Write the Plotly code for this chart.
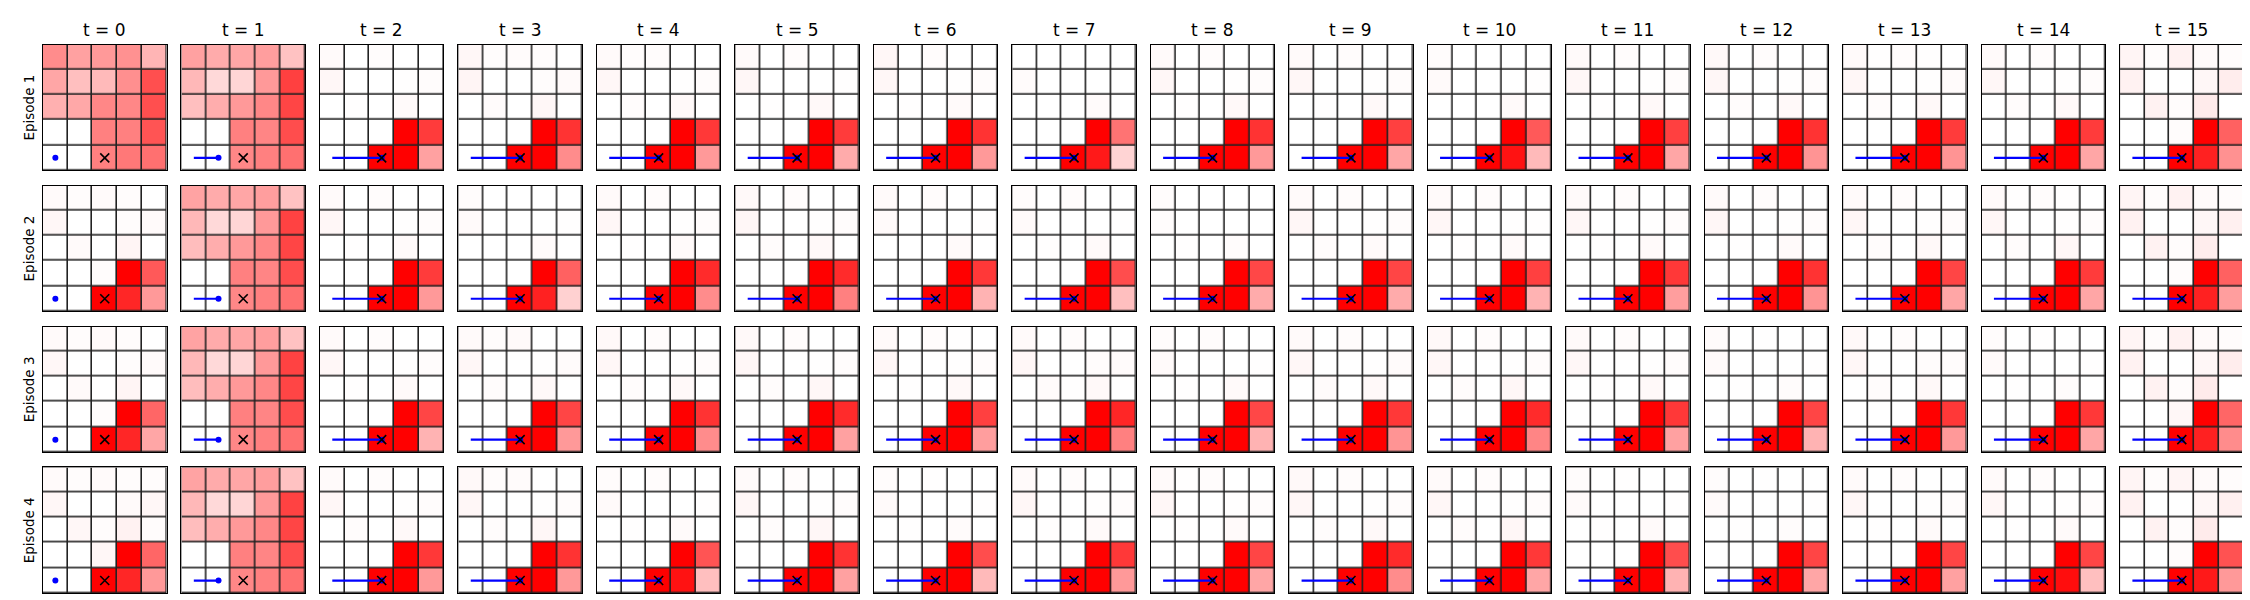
import plotly.graph_objects as go
from plotly.subplots import make_subplots

# ---------------- data ----------------
TIMESTEPS = list(range(16))
EPISODES = ["Episode 1", "Episode 2", "Episode 3", "Episode 4"]
COL_LABELS = [f"t = {t}" for t in TIMESTEPS]
ROW_Y = [4, 3, 2, 1, 0]          # grid rows listed top -> bottom
COL_X = [0, 1, 2, 3, 4]

# value grids (0..1), each grid listed top row first
EP1_GRIDS = [
    [[.45,.37,.40,.43,.29],[.35,.25,.27,.44,.69],[.31,.34,.47,.47,.69],[0,0,.50,.50,.67],[0,0,.50,.53,.56]],
    [[.37,.33,.35,.38,.24],[.28,.15,.16,.40,.75],[.25,.32,.40,.47,.73],[0,0,.50,.48,.70],[0,0,.47,.50,.56]],
    [[.02,0,.01,0,0],[.03,0,0,.005,.01],[0,.005,0,.02,0],[0,0,0,1,.77],[0,0,1,1,.37]],
    [[.03,.01,.015,.01,0],[.04,0,0,.01,.02],[0,.015,0,.03,0],[0,0,0,1,.80],[0,0,1,1,.45]],
    [[.02,.01,.01,0,0],[.03,0,0,.005,.01],[0,.01,0,.025,0],[0,0,0,1,.78],[0,0,1,1,.40]],
    [[.02,0,.01,0,0],[.03,0,0,0,.005],[0,.005,0,.025,0],[0,0,0,1,.77],[0,0,1,1,.33]],
    [[.03,0,.01,0,0],[.03,0,0,.005,.01],[0,.005,0,.02,0],[0,0,0,1,.80],[0,0,1,1,.40]],
    [[0,0,0,0,0],[.015,0,0,0,0],[0,0,0,.015,0],[0,0,0,1,.55],[0,0,1,.90,.17]],
    [[.02,0,.01,0,0],[.03,0,0,.005,.01],[0,.005,0,.025,0],[0,0,0,1,.80],[0,0,1,1,.40]],
    [[.02,0,.01,0,0],[.03,0,0,.005,.01],[0,.005,0,.025,0],[0,0,0,1,.75],[0,0,1,1,.35]],
    [[.01,0,0,0,0],[.02,0,0,0,.005],[0,0,0,.02,0],[0,0,0,1,.65],[0,0,1,.93,.27]],
    [[.02,0,.01,0,0],[.03,0,0,.005,.01],[0,.005,0,.025,0],[0,0,0,1,.75],[0,0,1,1,.35]],
    [[.025,0,.01,0,0],[.03,0,0,.005,.01],[0,.01,0,.025,0],[0,0,0,1,.80],[0,0,1,1,.42]],
    [[.02,.005,.01,.005,0],[.03,0,0,.005,.015],[0,.01,0,.025,0],[0,0,0,1,.77],[0,0,1,1,.42]],
    [[.02,0,.01,0,0],[.03,0,0,.005,.01],[0,.01,0,.025,0],[0,0,0,1,.77],[0,0,1,1,.35]],
    [[.04,.01,.05,.02,.01],[.05,0,0,.03,.07],[0,.05,.01,.08,0],[0,0,.01,1,.62],[0,0,1,.87,.43]],
]
EP2_GRIDS = [
    [[.02,.01,.02,.01,0],[.03,0,0,.01,.02],[0,.02,0,.04,0],[0,0,.01,1,.65],[0,0,1,.85,.40]],
    [[.36,.33,.35,.38,.24],[.28,.15,.16,.40,.74],[.26,.32,.40,.47,.73],[0,0,.50,.48,.70],[0,0,.47,.50,.56]],
    [[.02,0,.01,0,0],[.03,0,0,.005,.01],[0,.005,0,.02,0],[0,0,0,1,.77],[0,0,1,1,.40]],
    [[.01,0,0,0,0],[.02,0,0,0,.005],[0,0,0,.015,0],[0,0,0,1,.62],[0,0,1,.87,.18]],
    [[.02,0,.01,0,0],[.03,0,0,.005,.01],[0,.005,0,.02,0],[0,0,0,1,.83],[0,0,1,1,.45]],
    [[.025,0,.01,0,0],[.03,0,0,.005,.01],[0,.01,0,.025,0],[0,0,0,1,.83],[0,0,1,1,.50]],
    [[.02,0,.01,0,0],[.02,0,0,0,.005],[0,0,0,.02,0],[0,0,0,1,.78],[0,0,1,1,.30]],
    [[.01,0,.01,0,0],[.02,0,0,0,.005],[0,.005,0,.02,0],[0,0,0,1,.70],[0,0,1,1,.25]],
    [[.01,0,0,0,0],[.01,0,0,0,0],[0,.005,0,.01,0],[0,0,0,1,.72],[0,0,1,1,.33]],
    [[.02,0,.01,0,0],[.03,0,0,.005,.01],[0,.01,0,.02,0],[0,0,0,1,.73],[0,0,1,1,.33]],
    [[.02,0,.01,0,0],[.03,0,0,.005,.005],[0,.005,0,.02,0],[0,0,0,1,.75],[0,0,1,1,.30]],
    [[.02,0,.01,0,0],[.03,0,0,.005,.01],[0,.005,0,.02,0],[0,0,0,1,.78],[0,0,1,1,.38]],
    [[.02,0,.01,0,0],[.03,0,0,.005,.01],[0,.005,0,.02,0],[0,0,0,1,.80],[0,0,1,1,.42]],
    [[.02,0,.01,0,0],[.03,0,0,.005,.01],[0,.01,0,.025,0],[0,0,0,1,.73],[0,0,1,1,.35]],
    [[.02,.005,.01,.005,0],[.03,0,0,.005,.01],[0,.01,0,.03,0],[0,0,0,1,.77],[0,0,1,1,.35]],
    [[.04,.01,.05,.02,.01],[.05,0,0,.03,.06],[0,.05,.01,.07,0],[0,0,.01,1,.62],[0,0,1,.87,.38]],
]
EP3_GRIDS = [
    [[.02,.01,.02,.01,0],[.03,0,0,.01,.02],[0,.02,0,.04,0],[0,0,.01,1,.60],[0,0,1,.85,.35]],
    [[.36,.33,.35,.38,.24],[.28,.15,.16,.40,.74],[.26,.32,.40,.47,.73],[0,0,.50,.48,.70],[0,0,.47,.50,.56]],
    [[.02,0,.01,0,0],[.03,0,0,.005,.01],[0,.005,0,.02,0],[0,0,0,1,.73],[0,0,1,1,.30]],
    [[.02,.01,.02,0,0],[.03,0,0,.005,.015],[0,.01,0,.025,0],[0,0,0,1,.73],[0,0,1,1,.40]],
    [[.025,0,.01,0,0],[.03,0,0,.005,.01],[0,.01,0,.025,0],[0,0,0,1,.80],[0,0,1,1,.45]],
    [[.025,0,.01,0,0],[.03,0,0,.005,.01],[0,.01,0,.03,0],[0,0,0,1,.83],[0,0,1,1,.37]],
    [[.02,0,.01,.005,0],[.03,0,0,.005,.01],[0,.005,0,.025,0],[0,0,0,1,.75],[0,0,1,1,.38]],
    [[.02,0,.01,0,0],[.03,0,0,.01,.015],[0,.015,.005,.025,0],[0,0,0,1,.85],[0,0,1,1,.50]],
    [[.01,0,.01,0,0],[.02,0,0,0,.005],[0,.005,0,.02,0],[0,0,0,1,.72],[0,0,1,1,.30]],
    [[.02,0,.01,0,0],[.03,0,0,.005,.015],[0,.015,0,.025,0],[0,0,0,1,.78],[0,0,1,1,.42]],
    [[.025,0,.01,0,0],[.03,0,0,.005,.01],[0,.01,0,.03,0],[0,0,0,1,.83],[0,0,1,1,.48]],
    [[.02,0,.01,0,0],[.03,0,0,.005,.01],[0,.005,0,.025,0],[0,0,0,1,.78],[0,0,1,1,.37]],
    [[.015,0,.005,0,0],[.02,0,0,0,.005],[0,.005,0,.01,0],[0,0,0,1,.73],[0,0,1,1,.30]],
    [[.025,0,.01,0,0],[.03,0,0,.01,.01],[0,.01,0,.025,0],[0,0,0,1,.78],[0,0,1,1,.40]],
    [[.01,0,.005,0,0],[.02,0,0,0,.005],[0,.005,0,.01,0],[0,0,0,1,.78],[0,0,1,1,.35]],
    [[.04,.01,.05,.02,.01],[.05,0,0,.03,.07],[0,.05,.01,.08,0],[0,0,.03,1,.60],[0,0,1,.87,.45]],
]
EP4_GRIDS = [
    [[.02,.01,.02,.01,.01],[.03,0,0,.02,.03],[0,.03,.01,.05,.01],[0,0,.03,1,.60],[0,0,1,.85,.40]],
    [[.36,.33,.35,.38,.24],[.28,.15,.16,.40,.74],[.26,.32,.40,.47,.73],[0,0,.50,.48,.70],[0,0,.47,.50,.56]],
    [[.02,0,.01,0,0],[.03,0,0,.005,.01],[0,.01,0,.025,0],[0,0,0,1,.78],[0,0,1,1,.40]],
    [[.025,.01,.015,0,0],[.03,0,0,.005,.01],[0,.01,0,.03,0],[0,0,0,1,.80],[0,0,1,1,.40]],
    [[.01,0,.01,0,0],[.02,0,0,0,.005],[0,.005,0,.02,0],[0,0,0,1,.67],[0,0,1,.93,.25]],
    [[.02,0,.01,0,0],[.03,0,0,.005,.01],[0,.01,0,.03,0],[0,0,0,1,.80],[0,0,1,1,.37]],
    [[.01,0,.005,0,0],[.02,0,0,0,.005],[0,.005,0,.015,0],[0,0,0,1,.70],[0,0,1,1,.27]],
    [[.02,0,.01,0,0],[.03,0,0,.005,.01],[0,.005,0,.02,0],[0,0,0,1,.78],[0,0,1,1,.40]],
    [[.02,.005,.01,0,0],[.03,0,0,.005,.01],[0,.005,0,.02,0],[0,0,0,1,.73],[0,0,1,1,.35]],
    [[.025,0,.01,0,0],[.03,0,0,.005,.01],[0,.01,0,.025,0],[0,0,0,1,.83],[0,0,1,1,.45]],
    [[.02,0,.01,0,0],[.03,0,0,.005,.01],[0,.01,0,.03,0],[0,0,0,1,.78],[0,0,1,1,.35]],
    [[.01,0,.005,0,0],[.02,0,0,0,.005],[0,.005,0,.02,0],[0,0,0,1,.70],[0,0,1,1,.30]],
    [[.01,0,.005,0,0],[.02,0,0,0,.005],[0,.005,0,.01,0],[0,0,0,1,.73],[0,0,1,1,.35]],
    [[.02,0,.01,0,0],[.03,0,0,.005,.01],[0,.005,0,.02,0],[0,0,0,1,.73],[0,0,1,1,.37]],
    [[.02,0,.01,0,0],[.03,0,0,.005,.01],[0,.005,0,.02,0],[0,0,0,1,.73],[0,0,1,.95,.25]],
    [[.04,.01,.04,.02,.01],[.05,0,0,.03,.06],[0,.05,.01,.08,0],[0,0,.01,1,.68],[0,0,1,.90,.40]],
]
ALL_GRIDS = [EP1_GRIDS, EP2_GRIDS, EP3_GRIDS, EP4_GRIDS]

# agent trajectory (cell coordinates) up to each time step
PATH_X = [[0], [0, 1]] + [[0, 1, 2]] * 14
PATH_Y = [[0], [0, 0]] + [[0, 0, 0]] * 14
GOAL_X = [2]
GOAL_Y = [0]

# ---------------- figure ----------------
W, H = 2250, 600
NR, NC = 4, 16
LEFT0, PITCH_X, PW = 35.0, 138.47, 123.5
TOP0, PITCH_Y, PH = 36.7, 140.9, 125.7

fig = make_subplots(rows=NR, cols=NC, horizontal_spacing=0.005, vertical_spacing=0.01)

for r in range(NR):
    for c in range(NC):
        grid = ALL_GRIDS[r][c]
        fig.add_trace(go.Heatmap(
            z=grid, x=COL_X, y=ROW_Y, zmin=0, zmax=1,
            colorscale=[[0, "#ffffff"], [1, "#ff0000"]],
            showscale=False, xgap=1.6, ygap=1.6, hoverinfo="skip"), row=r + 1, col=c + 1)
        px_, py_ = PATH_X[c], PATH_Y[c]
        if len(px_) > 1:
            fig.add_trace(go.Scatter(x=px_, y=py_, mode="lines",
                                     line=dict(color="#0000ff", width=2.2),
                                     showlegend=False, hoverinfo="skip"), row=r + 1, col=c + 1)
        fig.add_trace(go.Scatter(x=px_[-1:], y=py_[-1:], mode="markers",
                                 marker=dict(color="#0000ff", size=6, line=dict(width=0)),
                                 showlegend=False, hoverinfo="skip"), row=r + 1, col=c + 1)
        fig.add_trace(go.Scatter(x=GOAL_X, y=GOAL_Y, mode="markers",
                                 marker=dict(symbol="x-thin", size=9,
                                             line=dict(color="black", width=1.6)),
                                 showlegend=False, hoverinfo="skip"), row=r + 1, col=c + 1)

        idx = r * NC + c + 1
        x0 = (LEFT0 + c * PITCH_X) / W
        x1 = x0 + PW / W
        top = TOP0 + r * PITCH_Y
        y1 = 1 - top / H
        y0 = 1 - (top + PH) / H
        sfx = "" if idx == 1 else str(idx)
        axis_style = dict(range=[-0.5, 4.5], showticklabels=False, ticks="", showgrid=False,
                          zeroline=False, showline=True, mirror=True,
                          linecolor="black", linewidth=1, fixedrange=True)
        fig.layout["xaxis" + sfx].update(domain=[x0, x1], **axis_style)
        fig.layout["yaxis" + sfx].update(domain=[y0, y1], **axis_style)

annotations = []
for c in range(NC):
    xc = (LEFT0 + c * PITCH_X + PW / 2) / W
    annotations.append(dict(text=COL_LABELS[c], x=xc, y=1 - 21.5 / H, xref="paper", yref="paper",
                            xanchor="center", yanchor="middle", showarrow=False,
                            font=dict(family="DejaVu Sans", size=17, color="black")))
for r in range(NR):
    yc = 1 - (TOP0 + r * PITCH_Y + PH / 2) / H
    annotations.append(dict(text=EPISODES[r], x=21 / W, y=yc, xref="paper", yref="paper",
                            xanchor="center", yanchor="middle", showarrow=False, textangle=-90,
                            font=dict(family="DejaVu Sans", size=13.5, color="black")))

fig.update_layout(width=W, height=H, margin=dict(l=0, r=0, t=0, b=0),
                  paper_bgcolor="white", plot_bgcolor="#222222",
                  showlegend=False, annotations=annotations)

fig.write_html("out.html")
